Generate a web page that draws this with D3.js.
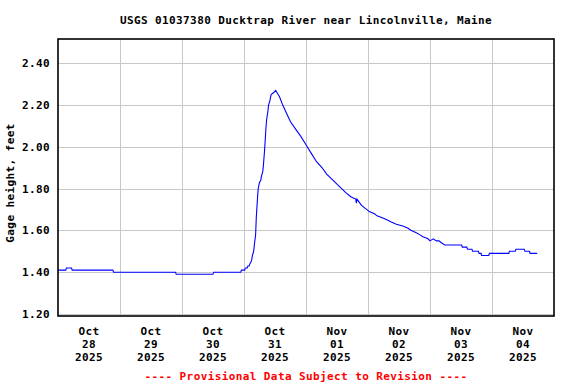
<!DOCTYPE html>
<html>
<head>
<meta charset="utf-8">
<script src="https://cdn.jsdelivr.net/npm/d3@7"></script>
<style>
  body { margin: 0; background: #fff; }
  text { font-family: 'DejaVu Sans Mono', 'Liberation Mono', monospace; font-weight: bold; }
</style>
</head>
<body>
<svg></svg>
<script>
const width = 576;
const height = 384;

const title = 'USGS 01037380 Ducktrap River near Lincolnville, Maine';
const yLabel = 'Gage height, feet';
const footer = '---- Provisional Data Subject to Revision ----';

// y ticks, feet
const yTicks = [1.20, 1.40, 1.60, 1.80, 2.00, 2.20, 2.40];

// day boundaries on the time axis
const days = ['2025-10-28', '2025-10-29', '2025-10-30', '2025-10-31',
              '2025-11-01', '2025-11-02', '2025-11-03', '2025-11-04', '2025-11-05'];

// readings where the gage height changes
const times = [
  '2025-10-28 00:00', '2025-10-28 03:00', '2025-10-28 03:15', '2025-10-28 05:15',
  '2025-10-28 05:30', '2025-10-28 21:15', '2025-10-28 21:30',
  '2025-10-29 21:30', '2025-10-29 21:45',
  '2025-10-30 12:00', '2025-10-30 12:15', '2025-10-30 22:45', '2025-10-30 23:00',
  '2025-10-31 00:15', '2025-10-31 00:30', '2025-10-31 01:15', '2025-10-31 01:30',
  '2025-10-31 02:00', '2025-10-31 02:15', '2025-10-31 02:45', '2025-10-31 03:00',
  '2025-10-31 03:15', '2025-10-31 03:45', '2025-10-31 04:00', '2025-10-31 04:30',
  '2025-10-31 04:45', '2025-10-31 05:15', '2025-10-31 05:30', '2025-10-31 06:00',
  '2025-10-31 06:30', '2025-10-31 06:45', '2025-10-31 07:15', '2025-10-31 07:30',
  '2025-10-31 08:00', '2025-10-31 08:15', '2025-10-31 08:30', '2025-10-31 08:45',
  '2025-10-31 09:15', '2025-10-31 09:30', '2025-10-31 10:00', '2025-10-31 10:30',
  '2025-10-31 11:30', '2025-10-31 12:15', '2025-10-31 12:45', '2025-10-31 13:45',
  '2025-10-31 15:00', '2025-10-31 16:30', '2025-10-31 18:00', '2025-10-31 20:15',
  '2025-10-31 22:00',
  '2025-11-01 00:00', '2025-11-01 02:00', '2025-11-01 04:00', '2025-11-01 06:15',
  '2025-11-01 08:00', '2025-11-01 10:30', '2025-11-01 13:00', '2025-11-01 15:30',
  '2025-11-01 17:30', '2025-11-01 19:15', '2025-11-01 19:30', '2025-11-01 19:45',
  '2025-11-01 21:30',
  '2025-11-02 00:30', '2025-11-02 02:30', '2025-11-02 03:30', '2025-11-02 05:45',
  '2025-11-02 07:30', '2025-11-02 09:00', '2025-11-02 11:00', '2025-11-02 13:45',
  '2025-11-02 15:30', '2025-11-02 16:45', '2025-11-02 18:30', '2025-11-02 20:00',
  '2025-11-02 21:15', '2025-11-02 23:15',
  '2025-11-03 00:00', '2025-11-03 01:15', '2025-11-03 02:30', '2025-11-03 03:30',
  '2025-11-03 04:30', '2025-11-03 05:45', '2025-11-03 12:15', '2025-11-03 12:30',
  '2025-11-03 14:15', '2025-11-03 14:30', '2025-11-03 16:15', '2025-11-03 16:30',
  '2025-11-03 18:45', '2025-11-03 19:00', '2025-11-03 19:45', '2025-11-03 20:00',
  '2025-11-03 22:45', '2025-11-03 23:00',
  '2025-11-04 06:30', '2025-11-04 06:45', '2025-11-04 09:00', '2025-11-04 09:15',
  '2025-11-04 12:30', '2025-11-04 12:45', '2025-11-04 14:30', '2025-11-04 14:45',
  '2025-11-04 17:30'
];

const gage = [
  1.41, 1.41, 1.42, 1.42,
  1.41, 1.41, 1.40,
  1.40, 1.39,
  1.39, 1.40, 1.40, 1.41,
  1.41, 1.42, 1.42, 1.43,
  1.43, 1.44, 1.45, 1.46,
  1.48, 1.50, 1.53, 1.58,
  1.66, 1.76, 1.80, 1.83,
  1.84, 1.86, 1.88, 1.91,
  1.99, 2.04, 2.09, 2.13,
  2.17, 2.20, 2.22, 2.25,
  2.26, 2.27, 2.26, 2.24,
  2.20, 2.16, 2.12, 2.08,
  2.05,
  2.01, 1.97, 1.93, 1.90,
  1.87, 1.84, 1.81, 1.78,
  1.76, 1.75, 1.73, 1.75,
  1.72,
  1.69, 1.68, 1.67, 1.66,
  1.65, 1.64, 1.63, 1.62,
  1.61, 1.60, 1.59, 1.58,
  1.57, 1.56,
  1.55, 1.56, 1.55, 1.55,
  1.54, 1.53, 1.53, 1.52,
  1.52, 1.51, 1.51, 1.50,
  1.50, 1.49, 1.49, 1.48,
  1.48, 1.49,
  1.49, 1.50, 1.50, 1.51,
  1.51, 1.50, 1.50, 1.49,
  1.49
];

const parseTime = d3.utcParse('%Y-%m-%d %H:%M');
const parseDay = d3.utcParse('%Y-%m-%d');
const data = times.map((t, i) => ({ time: parseTime(t), value: gage[i] }));
const dayDates = days.map(parseDay);

// plot box
const plotLeft = 58, plotRight = 554, plotTop = 39, plotBottom = 316;
const fontSize = '11px';
const spacing = '0.4px';

const svg = d3.select('svg')
              .attr('width', width)
              .attr('height', height);

const x = d3.scaleUtc()
            .domain([dayDates[0], dayDates[dayDates.length - 1]])
            .range([plotLeft, plotRight]);

const y = d3.scaleLinear()
            .domain([1.1904, 2.5163])
            .range([plotBottom, plotTop]);

// grid lines
svg.append('g')
   .selectAll('line')
   .data(dayDates.slice(1, -1))
   .enter()
   .append('line')
     .attr('x1', d => Math.round(x(d)) + 0.5)
     .attr('x2', d => Math.round(x(d)) + 0.5)
     .attr('y1', plotTop)
     .attr('y2', plotBottom)
     .attr('stroke', '#c8c8c8')
     .attr('stroke-width', 1);

svg.append('g')
   .selectAll('line')
   .data(yTicks)
   .enter()
   .append('line')
     .attr('x1', plotLeft)
     .attr('x2', plotRight)
     .attr('y1', d => Math.round(y(d)) + 0.5)
     .attr('y2', d => Math.round(y(d)) + 0.5)
     .attr('stroke', '#c8c8c8')
     .attr('stroke-width', 1);

// gage height line
const line = d3.line()
               .x(d => x(d.time))
               .y(d => y(d.value));

svg.append('path')
   .datum(data)
   .attr('d', line)
   .attr('fill', 'none')
   .attr('stroke', '#0000ff')
   .attr('stroke-width', 1.1);

// frame
svg.append('rect')
   .attr('x', plotLeft)
   .attr('y', plotTop)
   .attr('width', plotRight - plotLeft)
   .attr('height', plotBottom - plotTop)
   .attr('fill', 'none')
   .attr('stroke', '#000')
   .attr('stroke-width', 1.6);

// y tick labels
svg.append('g')
   .selectAll('text')
   .data(yTicks)
   .enter()
   .append('text')
     .attr('x', 50)
     .attr('y', d => y(d) + 4)
     .attr('text-anchor', 'end')
     .attr('font-size', fontSize)
     .attr('letter-spacing', spacing)
     .text(d => d.toFixed(2));

// x labels, centred on noon of each day
const monthFmt = d3.utcFormat('%b');
const dayFmt = d3.utcFormat('%d');
const yearFmt = d3.utcFormat('%Y');
const xLabels = svg.append('g')
                   .selectAll('text')
                   .data(dayDates.slice(0, -1))
                   .enter()
                   .append('text')
                     .attr('text-anchor', 'middle')
                     .attr('font-size', fontSize)
                     .attr('letter-spacing', spacing);
[monthFmt, dayFmt, yearFmt].forEach((fmt, i) => {
  xLabels.append('tspan')
         .attr('x', d => x(d3.utcHour.offset(d, 12)))
         .attr('y', 335 + i * 13)
         .text(d => fmt(d));
});

// title, axis title, footer
svg.append('text')
   .attr('x', (plotLeft + plotRight) / 2)
   .attr('y', 24)
   .attr('text-anchor', 'middle')
   .attr('font-size', fontSize)
   .attr('letter-spacing', spacing)
   .text(title);

svg.append('text')
   .attr('transform', 'translate(14,183) rotate(-90)')
   .attr('text-anchor', 'middle')
   .attr('font-size', fontSize)
   .attr('letter-spacing', spacing)
   .text(yLabel);

svg.append('text')
   .attr('x', (plotLeft + plotRight) / 2)
   .attr('y', 380)
   .attr('text-anchor', 'middle')
   .attr('font-size', fontSize)
   .attr('letter-spacing', spacing)
   .attr('fill', '#ff0000')
   .text(footer);
</script>
</body>
</html>
